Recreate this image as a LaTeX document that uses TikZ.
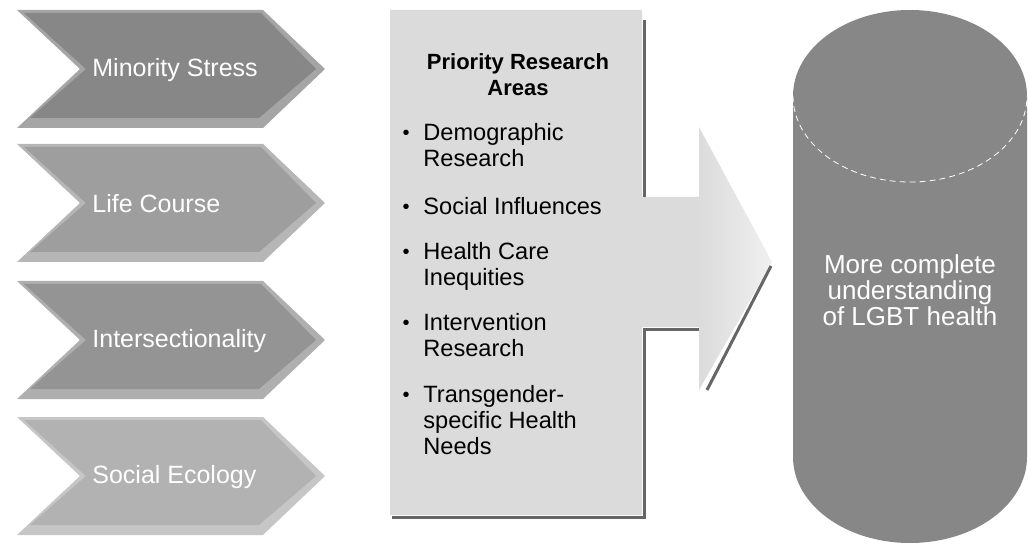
\documentclass[tikz,border=0pt]{standalone}
\usepackage{fontspec}
\setmainfont{Liberation Sans}

\begin{document}
\begin{tikzpicture}[x=0.5pt,y=-0.5pt,
  chevtxt/.style={anchor=west,inner sep=0pt,text=white,font=\fontsize{12.5}{14}\selectfont},
  itm/.style={anchor=north west,align=left,inner sep=0pt,font=\fontsize{11.8}{13}\selectfont},
  bul/.style={inner sep=0pt,font=\fontsize{10}{13}\selectfont},
  shadowline/.style={black!60,line width=1.5pt}]
  \useasboundingbox (0,0) rectangle (1028,545);
  % four chevrons on the left
  \foreach \n/\t/\c/\lbl in {1/10/47/Minority Stress,2/144/38/Life Course,3/281/42/Intersectionality,4/417/30/Social Ecology}{
    \fill[black!\c!white!75] (17,\t)--(263,\t)--(325,\t+59)--(263,\t+118)--(17,\t+118)--(80,\t+59)--cycle;
    \fill[black!\c] (24,\t+3)--(261,\t+3)--(316,\t+59)--(259,\t+108)--(30,\t+108)--(86,\t+59)--cycle;
    \node[chevtxt] (ch\n) at (92,\t+60) {\lbl};
  }
  % box with arrow
  \fill[black!14] (390,10)--(642,10)--(642,197)--(700,197)--(700,327)--(642,327)--(642,515)--(390,515)--cycle;
  \shade[left color=black!14,right color=black!6] (699,127)--(772,262)--(699,390)--cycle;
  \draw[shadowline] (644,20)--(644,197);
  \draw[shadowline] (699,329)--(644,329)--(644,517)--(392,517);
  \draw[shadowline] (771,266)--(707,390);
  \node[font=\bfseries\fontsize{11}{13}\selectfont,align=center,inner sep=0pt,anchor=north] (title) at (518,53) {Priority Research\\Areas};
  \foreach \n/\y/\txt in {1/133/{Demographic\\Research},2/207/{Social Influences},3/252/{Health Care\\Inequities},4/323/{Intervention\\Research},5/395/{Transgender-\\specific Health\\Needs}}{
    \node[bul] (b\n) at (406,\y+2) {\textbullet};
    \node[itm] (i\n) at (423,\y-10) {\txt};
  }
  % cylinder
  \fill[black!47] (793,96)--(793,457) arc[start angle=180,end angle=0,x radius=117,y radius=86]--(1027,96) arc[start angle=0,end angle=-180,x radius=117,y radius=86]--cycle;
  \draw[white,densely dashed,thin] (793,96) arc[start angle=180,end angle=0,x radius=117,y radius=86];
  \node[text=white,align=center,inner sep=0pt,font=\fontsize{13}{11.5}\selectfont] (goal) at (910,290) {More complete\\understanding\\of LGBT health};
\end{tikzpicture}
\end{document}
